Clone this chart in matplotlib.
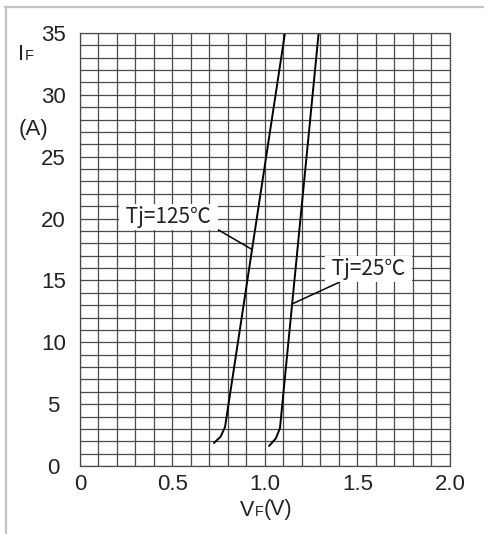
import numpy as np
import matplotlib
matplotlib.use('Agg')
import matplotlib.pyplot as plt
from matplotlib.lines import Line2D
from matplotlib.offsetbox import TextArea, HPacker, AnnotationBbox

# forward characteristic (VF in V, IF in A)
vf_125 = [0.724, 0.760, 0.784, 1.108]
if_125 = [1.86, 2.37, 3.15, 35.0]
vf_25 = [1.022, 1.059, 1.081, 1.290]
if_25 = [1.62, 2.24, 3.07, 35.0]

x_ticks = [0, 0.5, 1.0, 1.5, 2.0]
x_labels = ['0', '0.5', '1.0', '1.5', '2.0']
y_ticks = [0, 5, 10, 15, 20, 25, 30, 35]

W, H = 485, 534
fig = plt.figure(figsize=(W / 100, H / 100), dpi=100)
ax = fig.add_axes([80 / W, 1 - 466 / H, 370 / W, 433 / H])

gcol = '#4a4a4a'
ax.set_xlim(0, 2.0)
ax.set_ylim(0, 35)
ax.set_xticks(x_ticks)
ax.set_xticklabels(x_labels)
ax.set_xticks(np.arange(0, 2.01, 0.1), minor=True)
ax.set_yticks(y_ticks)
ax.set_yticks(np.arange(0, 36, 1), minor=True)
ax.grid(which='both', color=gcol, lw=0.9)
ax.set_axisbelow(True)
ax.tick_params(which='both', length=0)
ax.tick_params(axis='x', pad=6)
ax.tick_params(axis='y', pad=19)
for lab in ax.get_xticklabels() + ax.get_yticklabels():
    lab.set_fontfamily('Liberation Sans')
    lab.set_fontsize(16)
    lab.set_color('#222222')
for lab in ax.get_yticklabels():
    lab.set_horizontalalignment('center')
for s in ax.spines.values():
    s.set_color(gcol)
    s.set_linewidth(0.9)

ax.plot(vf_125, if_125, color='black', lw=1.4, solid_capstyle='round')
ax.plot(vf_25, if_25, color='black', lw=1.4, solid_capstyle='round')

cjk = ['Noto Sans CJK SC', 'DejaVu Sans']
lead_125 = 17.5
lead_25 = 13.1
ax.annotate(' Tj=125\u2103 ', xy=(np.interp(lead_125, if_125, vf_125), lead_125),
            xytext=(0.478, 20.1), ha='center', va='center', fontsize=15,
            family=cjk, color='#222222',
            bbox=dict(boxstyle='square,pad=0.1', fc='white', ec='none'),
            arrowprops=dict(arrowstyle='-', color='black', lw=1.1,
                            relpos=(1.0, 0.0), shrinkA=0, shrinkB=0))
ax.annotate(' Tj=25\u2103 ', xy=(np.interp(lead_25, if_25, vf_25), lead_25),
            xytext=(1.559, 15.9), ha='center', va='center', fontsize=15,
            family=cjk, color='#222222',
            bbox=dict(boxstyle='square,pad=0.1', fc='white', ec='none'),
            arrowprops=dict(arrowstyle='-', color='black', lw=1.1,
                            relpos=(0.2, 0.0), shrinkA=0, shrinkB=0))


def sub_label(big, small, tail, xy, size=16):
    parts = [TextArea(big, textprops=dict(fontsize=size, family='Liberation Sans', color='#222222')),
             TextArea(small, textprops=dict(fontsize=size * 0.66, family='Liberation Sans', color='#222222'))]
    if tail:
        parts.append(TextArea(tail, textprops=dict(fontsize=size, family='Liberation Sans', color='#222222')))
    box = HPacker(children=parts, align='baseline', pad=0, sep=0)
    ab = AnnotationBbox(box, xy, xycoords='figure fraction', frameon=False,
                        box_alignment=(0.5, 0.5), pad=0)
    fig.add_artist(ab)


sub_label('I', 'F', '', (26 / W, 1 - 54 / H))
fig.text(34 / W, 1 - 130 / H, '(A)', fontsize=16, family='Liberation Sans',
         color='#222222', ha='center', va='center')
sub_label('V', 'F', '(V)', (266 / W, 1 - 510 / H), size=15.5)

# thin outer frame (top and left only are visible)
fcol = '#c4c4c4'
fig.add_artist(Line2D([5 / W, 1.0], [1 - 7 / H, 1 - 7 / H], color=fcol, lw=1.6))
fig.add_artist(Line2D([6 / W, 6 / W], [0, 1 - 7 / H], color=fcol, lw=1.6))

fig.savefig('out.png', dpi=100)
